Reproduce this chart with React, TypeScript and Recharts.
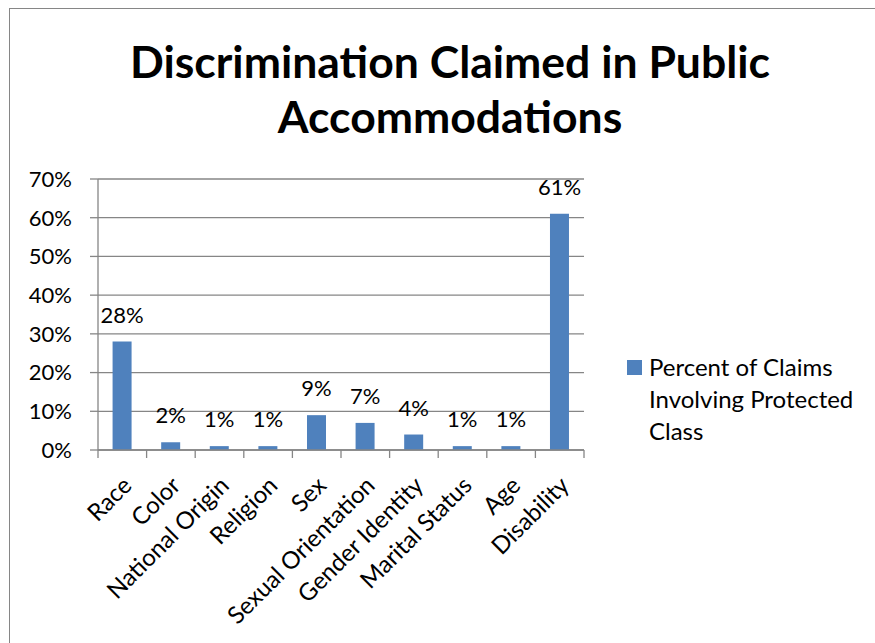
import React from "react";
import { BarChart, Bar, XAxis, YAxis, CartesianGrid, Legend, LabelList } from "recharts";

const categories = [
  "Race",
  "Color",
  "National Origin",
  "Religion",
  "Sex",
  "Sexual Orientation",
  "Gender Identity",
  "Marital Status",
  "Age",
  "Disability",
];
const percentOfClaims = [28, 2, 1, 1, 9, 7, 4, 1, 1, 61];
const yTicks = [0, 10, 20, 30, 40, 50, 60, 70];
const seriesName = "Percent of Claims Involving Protected Class";
const titleLines = ["Discrimination Claimed in Public", "Accommodations"];

const data = categories.map((c, i) => ({ category: c, value: percentOfClaims[i] }));

const FONT = "Lato, 'Open Sans', sans-serif";
const BAR = "#4F81BD";
const GRAY = "#868686";
const TICK_LEN = 8;

const XTick = (props: any) => {
  const { x, y, payload, index, visibleTicksCount } = props;
  const half = payload && typeof payload.offset === "number" ? payload.offset : 0;
  const ax = x + 5;
  const ay = y + 31;
  const isLast = index === visibleTicksCount - 1;
  return (
    <g>
      <line x1={x - half} x2={x - half} y1={y} y2={y + TICK_LEN} stroke={GRAY} strokeWidth={1.3} />
      {isLast && (
        <line x1={x + half} x2={x + half} y1={y} y2={y + TICK_LEN} stroke={GRAY} strokeWidth={1.3} />
      )}
      <text
        x={ax}
        y={ay}
        dy="0.35em"
        textAnchor="end"
        transform={`rotate(-45, ${ax}, ${ay})`}
        fontFamily={FONT}
        fontSize={24}
        fill="#000"
      >
        {payload.value}
      </text>
    </g>
  );
};

const LegendContent = (props: any) => {
  const { payload } = props;
  return (
    <div style={{ fontFamily: FONT, fontSize: 24, lineHeight: "32px", color: "#000" }}>
      {(payload || []).map((p: any, i: number) => (
        <div key={i} style={{ display: "flex", alignItems: "flex-start" }}>
          <div
            style={{
              width: 15,
              height: 15,
              background: p.color,
              marginTop: 9.5,
              marginRight: 7,
              flex: "0 0 auto",
            }}
          />
          <div style={{ width: 218 }}>{p.value}</div>
        </div>
      ))}
    </div>
  );
};

export default function App() {
  return (
    <div
      style={{
        position: "absolute",
        left: 0,
        top: 0,
        width: 875,
        height: 643,
        overflow: "hidden",
        background: "#fff",
      }}
    >
      <div
        style={{
          position: "absolute",
          left: 9,
          top: 8,
          width: 1000,
          height: 1000,
          border: `1.5px solid ${GRAY}`,
          boxSizing: "border-box",
        }}
      />
      <div
        style={{
          position: "absolute",
          left: 0,
          width: 900,
          top: 33,
          textAlign: "center",
          fontFamily: FONT,
          fontWeight: 700,
          fontSize: 44.5,
          lineHeight: "55px",
          color: "#000",
        }}
      >
        {titleLines.map((t, i) => (
          <div key={i}>{t}</div>
        ))}
      </div>
      <div style={{ position: "absolute", left: 0, top: 0 }}>
        <BarChart
          width={875}
          height={643}
          data={data}
          margin={{ top: 179, right: 51, left: 38, bottom: 192 }}
          barCategoryGap="30%"
        >
          <CartesianGrid vertical={false} stroke={GRAY} strokeWidth={1.3} />
          <XAxis
            dataKey="category"
            type="category"
            interval={0}
            axisLine={{ stroke: GRAY, strokeWidth: 1.3 }}
            tickLine={false}
            tickSize={0}
            tickMargin={0}
            height={1}
            tick={<XTick />}
          />
          <YAxis
            width={60}
            domain={[0, 70]}
            ticks={yTicks}
            tickFormatter={(v: number) => `${v}%`}
            tickSize={8}
            tickMargin={18}
            axisLine={{ stroke: GRAY, strokeWidth: 1.3 }}
            tickLine={{ stroke: GRAY, strokeWidth: 1.3 }}
            tick={{ fontFamily: FONT, fontSize: 22, fill: "#000" }}
          />
          <Legend
            layout="vertical"
            align="right"
            verticalAlign="middle"
            content={<LegendContent />}
            wrapperStyle={{ left: 627, top: 350.5, right: "auto", bottom: "auto", width: 240 }}
          />
          <Bar dataKey="value" name={seriesName} fill={BAR} isAnimationActive={false}>
            <LabelList
              dataKey="value"
              position="top"
              offset={19}
              formatter={(v: any) => `${v}%`}
              style={{ fontFamily: FONT, fontSize: 22, fill: "#000" }}
            />
          </Bar>
        </BarChart>
      </div>
    </div>
  );
}
